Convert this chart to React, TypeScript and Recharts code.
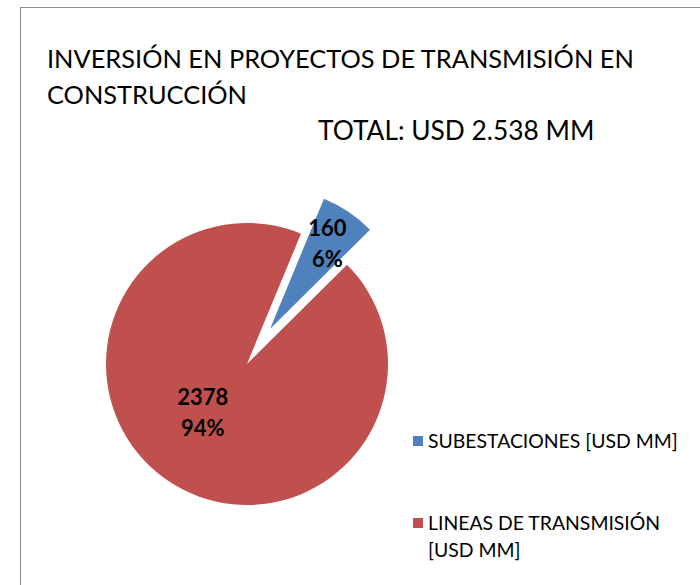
import React from "react";
import { Cell, Legend, Pie, PieChart } from "recharts";

const categories = ["SUBESTACIONES [USD MM]", "LINEAS DE TRANSMISIÓN [USD MM]"];
const values = [160, 2378];
const colors = ["#4F81BD", "#C0504D"];
const titleLines = ["INVERSIÓN EN PROYECTOS DE TRANSMISIÓN EN", "CONSTRUCCIÓN"];
const subtitle = "TOTAL: USD 2.538 MM";

const data = categories.map((name, i) => ({ name, value: values[i] }));

const FONT = "Lato, 'Open Sans', sans-serif";
const RAD = Math.PI / 180;

// label for one slice only, two lines: value / percent
const makeLabel = (onlyIndex: number, ratio: number, angleShift: number) => (props: any) => {
    const { cx, cy, midAngle, outerRadius, index, value, percent } = props;
    if (index !== onlyIndex) return null;
    const a = (midAngle + angleShift) * RAD;
    const x = cx + outerRadius * ratio * Math.cos(-a);
    const y = cy + outerRadius * ratio * Math.sin(-a);
    return (
        <text
            x={x}
            y={y}
            textAnchor="middle"
            fill="#000"
            fontFamily={FONT}
            fontWeight={700}
            fontSize={22}
        >
            <tspan x={x} dy={-8}>{value}</tspan>
            <tspan x={x} dy={31}>{`${Math.round(percent * 100)}%`}</tspan>
        </text>
    );
};

// legend built from the category arrays (two pies share the same entries)
const LegendContent = () => (
    <div style={{ fontFamily: FONT, fontSize: 19.4, color: "#000" }}>
        {categories.map((name, i) => (
            <div
                key={name}
                style={{
                    display: "flex",
                    alignItems: "flex-start",
                    marginBottom: 55,
                    lineHeight: "27px",
                }}
            >
                <span
                    style={{
                        width: 10,
                        height: 10,
                        background: colors[i],
                        marginTop: 9,
                        marginRight: 5,
                        flex: "none",
                    }}
                />
                <span style={{ width: 250 }}>{name}</span>
            </div>
        ))}
    </div>
);

export default function App() {
    return (
        <div
            style={{
                position: "absolute",
                left: 0,
                top: 0,
                width: 700,
                height: 585,
                overflow: "hidden",
                background: "#fff",
            }}
        >
            <div
                style={{
                    position: "absolute",
                    left: 20,
                    top: 7,
                    width: 720,
                    height: 620,
                    border: "1px solid #8c8c8c",
                }}
            />
            <div
                style={{
                    position: "absolute",
                    left: 47,
                    top: 40,
                    fontFamily: FONT,
                    fontSize: 25.4,
                    lineHeight: "36px",
                    color: "#000",
                    whiteSpace: "nowrap",
                }}
            >
                {titleLines.map((t) => (
                    <div key={t}>{t}</div>
                ))}
                <div style={{ marginLeft: 271, fontSize: 26.3, lineHeight: "37px" }}>{subtitle}</div>
            </div>
            <PieChart
                width={700}
                height={585}
                margin={{ top: 0, right: 0, bottom: 0, left: 0 }}
                style={{ position: "absolute", left: 0, top: 0 }}
            >
                <Pie
                    data={data}
                    dataKey="value"
                    nameKey="name"
                    cx={247}
                    cy={364}
                    outerRadius={141}
                    startAngle={67.5}
                    endAngle={-292.5}
                    stroke="none"
                    labelLine={false}
                    label={makeLabel(1, 0.47, -8)}
                    isAnimationActive={false}
                >
                    {data.map((d, i) => (
                        <Cell key={d.name} fill={colors[i]} fillOpacity={i === 0 ? 0 : 1} />
                    ))}
                </Pie>
                <Pie
                    data={data}
                    dataKey="value"
                    nameKey="name"
                    cx={247 + 23}
                    cy={364 - 35}
                    outerRadius={141}
                    startAngle={67.5}
                    endAngle={-292.5}
                    stroke="none"
                    labelLine={false}
                    legendType="none"
                    label={makeLabel(0, 0.73, 0)}
                    isAnimationActive={false}
                >
                    {data.map((d, i) => (
                        <Cell key={d.name} fill={colors[i]} fillOpacity={i === 0 ? 1 : 0} />
                    ))}
                </Pie>
                <Legend
                    layout="vertical"
                    verticalAlign="bottom"
                    align="right"
                    content={<LegendContent />}
                    wrapperStyle={{ left: 413, top: 427, width: 287, bottom: "auto" }}
                />
            </PieChart>
        </div>
    );
}
